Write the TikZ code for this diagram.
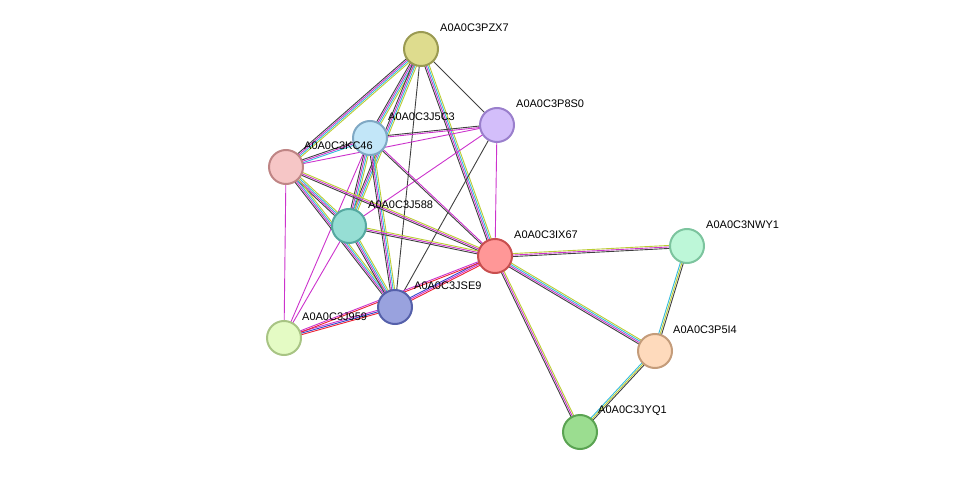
\documentclass[tikz,border=0pt]{standalone}
\usepackage{fontspec}
\setmainfont{Liberation Sans}
\usetikzlibrary{calc}
\definecolor{ecoex}{HTML}{404040}
\definecolor{eexp}{HTML}{CC33CC}
\definecolor{edb}{HTML}{33BBDD}
\definecolor{etxt}{HTML}{BBCC33}
\definecolor{eocc}{HTML}{3344CC}
\definecolor{efus}{HTML}{EE2233}
% one connector per evidence channel, drawn side by side
\newcommand\stredge[4]{%
  \foreach \c [count=\i] in {#4} {%
    \pgfmathsetmacro\off{(\i-(#3+1)/2)*1.5}
    \draw[\c, line width=0.9pt] ($(#1.center)!\off pt!90:(#2.center)$) -- ($(#2.center)!\off pt!-90:(#1.center)$);
  }}
\begin{document}
\begin{tikzpicture}[x=1pt, y=-1pt,
    prot/.style={circle, minimum size=34pt, inner sep=0pt, line width=2pt},
    lbl/.style={anchor=west, font=\fontsize{11}{13}\selectfont, inner sep=0pt}
]
\useasboundingbox (0,0) rectangle (976,478);

% proteins
\node[prot] (pzx) at (421,49) {};
\node[prot] (pss) at (497,125) {};
\node[prot] (jfc) at (370,138) {};
\node[prot] (kcf) at (286,167) {};
\node[prot] (jfe) at (349,226) {};
\node[prot] (ixs) at (495,256) {};
\node[prot] (nwy) at (687,246) {};
\node[prot] (jse) at (395,307) {};
\node[prot] (jnf) at (284,338) {};
\node[prot] (pfi) at (655,351) {};
\node[prot] (jyq) at (580,432) {};

% connectors
\stredge{pzx}{jfc}{4}{ecoex,eexp,edb,etxt}
\stredge{pzx}{kcf}{4}{ecoex,eexp,edb,etxt}
\stredge{pzx}{jfe}{4}{ecoex,eexp,edb,etxt}
\stredge{pzx}{jse}{1}{ecoex}
\stredge{pzx}{pss}{1}{ecoex}
\stredge{pzx}{ixs}{4}{ecoex,eexp,edb,etxt}
\stredge{pss}{jfc}{2}{ecoex,eexp}
\stredge{pss}{kcf}{1}{eexp}
\stredge{pss}{ixs}{1}{eexp}
\stredge{pss}{jse}{1}{ecoex}
\stredge{pss}{jfe}{1}{eexp}
\stredge{jfc}{jnf}{1}{eexp}
\stredge{jfc}{kcf}{3}{ecoex,eexp,edb}
\stredge{jfc}{jfe}{4}{ecoex,eexp,edb,etxt}
\stredge{jfc}{jse}{4}{ecoex,eexp,edb,etxt}
\stredge{jfc}{ixs}{2}{ecoex,eexp}
\stredge{kcf}{jfe}{4}{ecoex,eexp,edb,etxt}
\stredge{kcf}{jse}{4}{ecoex,eexp,edb,etxt}
\stredge{kcf}{ixs}{3}{ecoex,eexp,etxt}
\stredge{kcf}{jnf}{1}{eexp}
\stredge{jfe}{ixs}{3}{ecoex,eexp,etxt}
\stredge{jfe}{jse}{4}{ecoex,eexp,edb,etxt}
\stredge{jfe}{jnf}{1}{eexp}
\stredge{jse}{ixs}{3}{efus,eexp,eocc}
\stredge{jse}{jnf}{3}{eexp,eocc,efus}
\stredge{jnf}{ixs}{2}{efus,eexp}
\stredge{ixs}{nwy}{3}{ecoex,eexp,etxt}
\stredge{ixs}{pfi}{4}{ecoex,eexp,edb,etxt}
\stredge{ixs}{jyq}{3}{ecoex,eexp,etxt}
\stredge{nwy}{pfi}{3}{edb,etxt,ecoex}
\stredge{pfi}{jyq}{3}{edb,etxt,ecoex}

% redraw protein discs on top
\foreach \n/\f/\d in {pzx/DEDC8E/9A9A52, pss/D3BEFA/9A7FCC, jfc/C2E6F8/7FA8C4,
    kcf/F6C6C6/BF8585, jfe/96DED4/55A8A0, ixs/FF9797/C84E4E, nwy/BDF7D8/7CC49E,
    jse/99A2DE/5560AA, jnf/E4FBC4/A8C484, pfi/FEDABC/C49C7A, jyq/9BDD90/5AA352} {
  \definecolor{pfill}{HTML}{\f}
  \definecolor{pline}{HTML}{\d}
  \node[prot, fill=pfill, draw=pline] at (\n) {};
}

% labels
\node[lbl] (lpzx) at (440,28) {A0A0C3PZX7};
\node[lbl] (lpss) at (516,104) {A0A0C3P8S0};
\node[lbl] (ljfc) at (388,117) {A0A0C3J5C3};
\node[lbl] (lkcf) at (304,146) {A0A0C3KC46};
\node[lbl] (ljfe) at (368,205) {A0A0C3J588};
\node[lbl] (lixs) at (514,235) {A0A0C3IX67};
\node[lbl] (lnwy) at (706,225) {A0A0C3NWY1};
\node[lbl] (ljse) at (414,286) {A0A0C3JSE9};
\node[lbl] (ljnf) at (302,317) {A0A0C3J959};
\node[lbl] (lpfi) at (673,330) {A0A0C3P5I4};
\node[lbl] (ljyq) at (598,411) {A0A0C3JYQ1};
\end{tikzpicture}
\end{document}
